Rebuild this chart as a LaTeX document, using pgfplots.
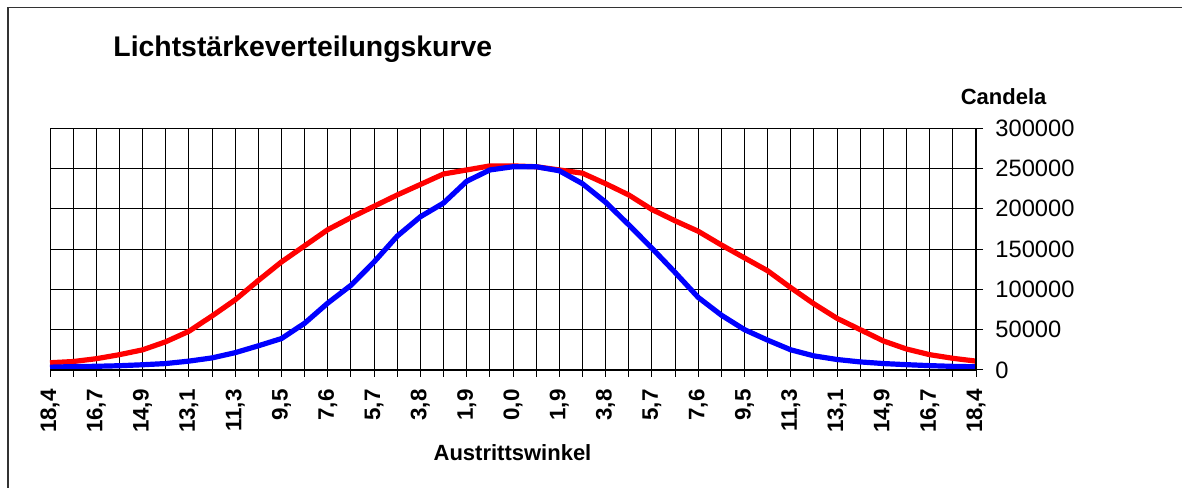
\documentclass[border=0pt]{standalone}
\usepackage{pgfplots}
\pgfplotsset{compat=1.18}
\usepackage{pgfplotstable}
\usepackage{fontspec}
\setmainfont{Liberation Sans}

\pgfplotstableread{
i red blue
0 9000 3500
1 10500 4200
2 14000 4600
3 19000 5300
4 25000 6500
5 35000 8000
6 48000 11000
7 67000 15000
8 87000 21500
9 111000 30000
10 134000 39000
11 154000 58000
12 174000 83000
13 189000 105000
14 203000 134000
15 217000 166000
16 230000 190000
17 243000 207000
18 248000 234000
19 253000 248000
20 253000 252000
21 252000 252000
22 248000 247000
23 244000 231000
24 231000 208000
25 217000 180000
26 199000 151000
27 185000 121000
28 172000 90000
29 155000 68000
30 139000 50000
31 123000 37000
32 102000 25000
33 82000 17500
34 64000 13000
35 50000 10000
36 36000 8000
37 26000 6600
38 19000 5400
39 14500 4500
40 11000 4000
}\datatable

\begin{document}
\begin{tikzpicture}
\path[use as bounding box] (0,0) rectangle (591pt,243.5pt);
\draw[line width=0.75pt, black!80] (4pt,-2pt) -- (4pt,239.75pt) -- (595pt,239.75pt);
\node[anchor=base west, inner sep=0pt, font=\fontsize{14.2}{16}\selectfont\bfseries] at (56.5pt,215.2pt) {Lichtstärkeverteilungskurve};
\node[inner sep=0pt, font=\fontsize{11}{13}\selectfont\bfseries] at (501.8pt,195pt) {Candela};
\node[inner sep=0pt, font=\fontsize{11}{13}\selectfont\bfseries] at (256.25pt,17pt) {Austrittswinkel};
\begin{axis}[
  at={(25pt,58.5pt)}, anchor=south west,
  scale only axis, width=463pt, height=121pt,
  xmin=0, xmax=40, ymin=0, ymax=300000,
  xtick={0,...,40},
  xticklabels={{18,4},{},{16,7},{},{14,9},{},{13,1},{},{11,3},{},{9,5},{},{7,6},{},{5,7},{},{3,8},{},{1,9},{},{0,0},{},{1,9},{},{3,8},{},{5,7},{},{7,6},{},{9,5},{},{11,3},{},{13,1},{},{14,9},{},{16,7},{},{18,4}},
  ytick={0,50000,...,300000},
  scaled y ticks=false,
  yticklabel style={/pgf/number format/fixed, /pgf/number format/set thousands separator={}, /pgf/number format/assume math mode=true},
  tick align=outside, xtick pos=left, ytick pos=right, yticklabel pos=right,
  major tick length=3.5pt,
  tick style={black, line width=0.5pt},
  grid=major,
  grid style={black, line width=0.5pt},
  axis line style={black, line width=0.5pt},
  xticklabel style={rotate=90, anchor=east, inner sep=0pt, font=\fontsize{11.2}{13}\selectfont\bfseries},
  xticklabel shift=6pt,
  yticklabel style={anchor=west, inner sep=0pt, font=\fontsize{11.85}{14}\selectfont},
  yticklabel shift=6pt,
  clip=false,
]
\addplot[red, line width=2.6pt, line join=round] table[x=i, y=red] {\datatable};
\addplot[blue, line width=2.6pt, line join=round] table[x=i, y=blue] {\datatable};
\draw[black, line width=1pt] (rel axis cs:0,0) -- (rel axis cs:1,0) -- (rel axis cs:1,1);
\end{axis}
\end{tikzpicture}
\end{document}
